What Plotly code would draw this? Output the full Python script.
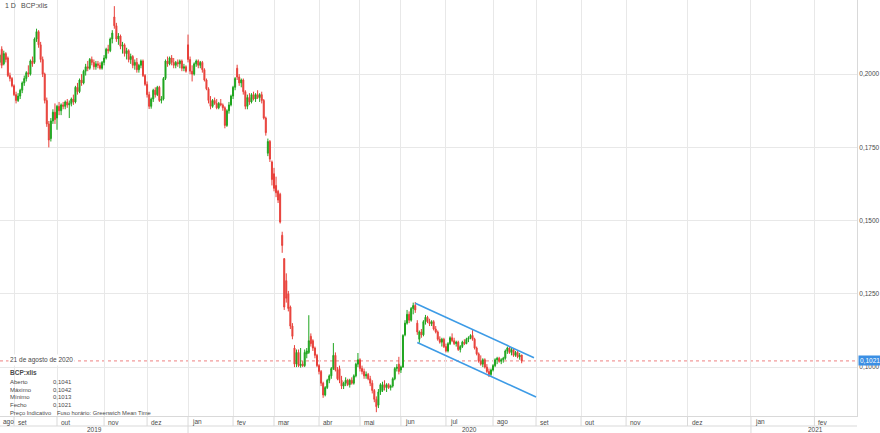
import plotly.graph_objects as go

# ---------------- data (daily candles, BCP:xlis, 22 Aug 2019 .. 21 Aug 2020) ----------------
open_ = [
    .2040, .2085, .2035, .2070, .2055, .1995, .1985,
    .1960, .1930, .1910, .1925, .1945, .1970, .1985, .2005, .2000, .2045, .2040, .2120, .2145, .2100, .2050, .2000, .1910, .1830, .1780, .1840, .1870,
    .1850, .1890, .1875, .1895, .1890, .1905, .1895, .1900, .1915, .1905, .1955, .1940, .1980, .1970, .2010, .2025, .2020, .2050, .2040, .2025, .2035, .2030, .2020,
    .2040, .2055, .2085, .2080, .2120, .2195, .2165, .2120, .2130, .2095, .2100, .2070, .2080, .2050, .2060, .2030, .2040, .2015, .2030, .2045, .1995,
    .1965, .1930, .1890, .1915, .1945, .1930, .1955, .1910, .1915, .1985, .2045, .2035, .2055, .2040, .2030, .2040, .2035, .2045, .2020, .2025,
    .2100, .2050, .2010, .2000, .2035, .2045, .2030, .2040, .2015, .1980, .1950, .1910, .1890, .1910, .1900, .1885, .1900, .1895, .1885, .1825, .1875, .1895,
    .1925, .1955, .2020, .1990, .1970, .1980, .1940, .1890, .1920, .1905, .1930, .1915, .1930, .1920, .1930, .1910, .1850, .1730, .1770, .1700,
    .1660, .1620, .1600, .1590, .1450, .1370, .1295, .1250, .1205, .1140, .1065, .1010, .1050, .1005, .1010, .1005, .1045, .1050, .1105, .1090, .1065, .1040,
    .1005, .0985, .0945, .0905, .0930, .0955, .0970, .0995, .1040, .0990, .0995, .0955, .0935, .0945, .0955, .0940, .0955, .0945, .0970, .1010,
    .1025, .0995, .0985, .0970, .0975, .0960, .0945, .0920, .0890, .0870, .0915, .0920, .0940, .0930, .0940, .0930, .0935, .0960, .0995, .1010,
    .0990, .1000, .1110, .1150, .1180, .1160, .1200, .1210, .1150, .1095, .1120, .1110, .1155, .1170, .1155, .1148, .1155, .1130, .1120, .1095, .1085, .1095,
    .1070, .1055, .1080, .1100, .1090, .1080, .1085, .1060, .1070, .1085, .1080, .1095, .1100, .1108, .1095, .1065, .1045, .1020, .1010, .1025, .1000, .0985, .0975,
    .0990, .1005, .1025, .1030, .1020, .1025, .1030, .1055, .1065, .1050, .1060, .1040, .1050, .1035, .1041,
]
high = [
    .2070, .2095, .2080, .2075, .2060, .2005, .1990,
    .1965, .1940, .1935, .1950, .1975, .1995, .2010, .2030, .2050, .2060, .2125, .2155, .2150, .2110, .2060, .2005, .1920, .1840, .1850, .1880, .1900,
    .1895, .1905, .1900, .1905, .1910, .1915, .1910, .1920, .1930, .1960, .1970, .1985, .2000, .2015, .2035, .2045, .2055, .2060, .2050, .2045, .2045, .2040, .2045,
    .2065, .2090, .2100, .2125, .2150, .2232, .2175, .2140, .2135, .2110, .2105, .2090, .2085, .2070, .2065, .2050, .2055, .2035, .2050, .2050, .2000,
    .1975, .1940, .1920, .1950, .1955, .1960, .1960, .1925, .1990, .2050, .2060, .2060, .2065, .2055, .2045, .2050, .2050, .2050, .2035, .2030,
    .2135, .2060, .2030, .2040, .2050, .2050, .2045, .2045, .2020, .1985, .1955, .1925, .1915, .1920, .1915, .1905, .1915, .1900, .1890, .1880, .1905, .1930,
    .1960, .1990, .2032, .2000, .1985, .1985, .1945, .1930, .1935, .1935, .1940, .1935, .1945, .1935, .1940, .1915, .1855, .1780, .1775, .1705,
    .1680, .1650, .1605, .1595, .1462, .1372, .1320, .1260, .1210, .1150, .1075, .1060, .1060, .1065, .1020, .1060, .1065, .1177, .1115, .1095, .1070, .1045,
    .1010, .0990, .0950, .0935, .0960, .0975, .1000, .1082, .1050, .1000, .1005, .0970, .0950, .0965, .0960, .0960, .0965, .0975, .1015, .1048,
    .1030, .1005, .0995, .0985, .0980, .0970, .0955, .0925, .0900, .0925, .0945, .0950, .0955, .0945, .0945, .0940, .0965, .1000, .1010, .1035,
    .1005, .1112, .1160, .1195, .1190, .1205, .1220, .1222, .1160, .1125, .1130, .1160, .1178, .1175, .1165, .1160, .1160, .1140, .1125, .1105, .1100, .1100,
    .1080, .1085, .1105, .1115, .1100, .1090, .1090, .1075, .1090, .1095, .1100, .1105, .1112, .1126, .1100, .1070, .1050, .1040, .1030, .1030, .1010, .0995, .0995,
    .1010, .1030, .1035, .1035, .1030, .1035, .1060, .1070, .1072, .1065, .1062, .1055, .1055, .1048, .1042,
]
low = [
    .2030, .2020, .2030, .2040, .1990, .1975, .1955,
    .1925, .1900, .1905, .1915, .1935, .1960, .1975, .1990, .1995, .2025, .2035, .2110, .2090, .2040, .1990, .1900, .1820, .1750, .1770, .1830, .1830,
    .1810, .1860, .1860, .1880, .1880, .1885, .1850, .1890, .1895, .1900, .1930, .1935, .1960, .1965, .1995, .2010, .2015, .2030, .2015, .2015, .2020, .2015, .2015,
    .2030, .2050, .2070, .2075, .2105, .2155, .2110, .2100, .2085, .2070, .2060, .2050, .2040, .2035, .2020, .2015, .2005, .2005, .2020, .1990, .1960,
    .1920, .1881, .1882, .1905, .1920, .1925, .1905, .1900, .1910, .1980, .2025, .2030, .2030, .2020, .2020, .2025, .2020, .2010, .2010, .2005,
    .2040, .2000, .1975, .1995, .2025, .2020, .2020, .2005, .1975, .1945, .1900, .1880, .1885, .1895, .1880, .1880, .1890, .1875, .1815, .1820, .1865, .1890,
    .1915, .1945, .1980, .1960, .1955, .1930, .1880, .1880, .1895, .1900, .1910, .1905, .1915, .1905, .1900, .1845, .1790, .1720, .1700, .1620,
    .1600, .1580, .1560, .1490, .1390, .1195, .1220, .1190, .1130, .1095, .1000, .1000, .1000, .0998, .1000, .1000, .1030, .1045, .1070, .1055, .1030, .1000,
    .0975, .0935, .0895, .0900, .0925, .0945, .0960, .0990, .0985, .0955, .0945, .0925, .0925, .0935, .0935, .0930, .0940, .0940, .0965, .1000,
    .0985, .0975, .0960, .0960, .0955, .0935, .0910, .0880, .0846, .0860, .0905, .0915, .0920, .0915, .0925, .0920, .0930, .0955, .0985, .0975,
    .0980, .0998, .1105, .1145, .1150, .1155, .1180, .1185, .1110, .1083, .1100, .1105, .1145, .1150, .1140, .1140, .1125, .1115, .1090, .1080, .1070, .1065,
    .1050, .1050, .1075, .1085, .1075, .1070, .1055, .1050, .1065, .1075, .1078, .1085, .1095, .1090, .1060, .1040, .1015, .1005, .1000, .0995, .0980, .0966, .0970,
    .0985, .1000, .1010, .1015, .1010, .1015, .1025, .1045, .1045, .1040, .1035, .1035, .1030, .1025, .1013,
]
close = [
    .2065, .2030, .2070, .2050, .1995, .1985, .1960,
    .1930, .1910, .1925, .1945, .1970, .1985, .2005, .2000, .2045, .2035, .2120, .2145, .2100, .2050, .2000, .1910, .1830, .1775, .1840, .1870, .1845,
    .1890, .1875, .1895, .1890, .1905, .1895, .1900, .1915, .1905, .1955, .1940, .1980, .1970, .2010, .2025, .2020, .2050, .2040, .2025, .2035, .2030, .2020, .2040,
    .2055, .2085, .2080, .2120, .2140, .2165, .2120, .2130, .2095, .2100, .2070, .2080, .2050, .2060, .2030, .2040, .2015, .2030, .2045, .1995, .1965,
    .1930, .1890, .1915, .1945, .1930, .1955, .1910, .1915, .1985, .2045, .2035, .2055, .2040, .2030, .2040, .2035, .2045, .2020, .2025, .2010,
    .2050, .2010, .2000, .2035, .2045, .2030, .2040, .2015, .1980, .1950, .1910, .1890, .1910, .1900, .1885, .1900, .1895, .1885, .1825, .1875, .1895, .1925,
    .1955, .1985, .1990, .1970, .1980, .1940, .1890, .1920, .1905, .1930, .1915, .1930, .1920, .1930, .1910, .1850, .1800, .1770, .1710, .1640,
    .1610, .1595, .1570, .1495, .1415, .1205, .1235, .1200, .1140, .1105, .1010, .1050, .1005, .1010, .1005, .1050, .1055, .1090, .1080, .1065, .1040, .1005,
    .0985, .0945, .0905, .0930, .0955, .0970, .0995, .1040, .0990, .0960, .0955, .0935, .0945, .0955, .0940, .0955, .0945, .0970, .1010, .1025,
    .0995, .0985, .0970, .0975, .0960, .0945, .0920, .0890, .0865, .0915, .0940, .0940, .0930, .0940, .0930, .0935, .0960, .0995, .1000, .0985,
    .1000, .1108, .1150, .1180, .1160, .1200, .1210, .1195, .1120, .1120, .1110, .1155, .1170, .1155, .1148, .1155, .1130, .1120, .1095, .1085, .1095, .1070,
    .1055, .1080, .1100, .1090, .1080, .1085, .1060, .1070, .1085, .1080, .1095, .1100, .1108, .1095, .1065, .1045, .1020, .1010, .1025, .1000, .0985, .0975, .0990,
    .1005, .1025, .1030, .1020, .1025, .1030, .1055, .1065, .1050, .1060, .1040, .1050, .1035, .1040, .1021,
]
assert len(open_) == len(high) == len(low) == len(close), (len(open_), len(high), len(low), len(close))

AUG19_DAYS = 7                      # trading days of Aug 2019 shown before 1 Sep
day_index = [i - AUG19_DAYS for i in range(len(close))]   # trading-day index (0 = 2 Sep 2019)

# month boundaries on the trading-day axis and their labels
month_starts = [0, 21, 44, 65, 85, 107, 127, 149, 169, 189, 211, 234, 255, 277, 299, 329, 360, 391]
month_labels = ["set", "out", "nov", "dez", "jan", "fev", "mar", "abr", "mai", "jun",
                "jul", "ago", "set", "out", "nov", "dez", "jan", "fev"]
first_month_label = "ago"
year_labels = ["2019", "2020", "2021"]
year_starts = [85, 360]            # January boundaries

# user-drawn descending channel
upper_x = [196, 254]
upper_y = [0.1218, 0.1032]
lower_x = [197, 255]
lower_y = [0.1084, 0.0898]

y_ticks = [0.1000, 0.1250, 0.1500, 0.1750, 0.2000]
last_date = "21 de agosto de 2020"
symbol = "BCP:xlis"

# ---------------- figure ----------------
W, H = 880, 433
ML, MR, MT, MB = 0, 23, 0, 17
PW, PH = W - ML - MR, H - MT - MB
X_RANGE = [-6.85, 411.8]
Y_RANGE = [0.0833, 0.2253]
FONT = "Arial, Liberation Sans, sans-serif"
GRID = "#e8e8e8"
BORDER = "#d9d9d9"
TXT = "#4a4a4a"
GREEN = "#1ea51e"
RED = "#e8403a"
BLUE = "#3d9be6"
FS = 6.5

def fmt(v):
    return f"{v:.4f}".replace(".", ",")

fig = go.Figure()
fig.add_trace(go.Candlestick(
    x=day_index, open=open_, high=high, low=low, close=close,
    increasing=dict(line=dict(color=GREEN, width=1), fillcolor=GREEN),
    decreasing=dict(line=dict(color=RED, width=1), fillcolor=RED),
    whiskerwidth=0, showlegend=False, hoverinfo="skip",
))
for cx, cy in ((upper_x, upper_y), (lower_x, lower_y)):
    fig.add_trace(go.Scatter(x=cx, y=cy, mode="lines", line=dict(color=BLUE, width=1.6),
                             showlegend=False, hoverinfo="skip"))

shapes = []
# last-price dashed line
shapes.append(dict(type="line", xref="paper", yref="y", x0=0, x1=1, y0=close[-1], y1=close[-1],
                   line=dict(color="#ee8080", width=1, dash="3px,3px"), layer="below"))
# axis rows (month row and year row)
row1 = -10 / PH
row2 = -17 / PH
for ms in month_starts:
    shapes.append(dict(type="line", xref="x", yref="paper", x0=ms, x1=ms, y0=0, y1=row1,
                       line=dict(color=BORDER, width=1)))
shapes.append(dict(type="line", xref="paper", yref="paper", x0=0, x1=1, y0=row1, y1=row1,
                   line=dict(color=BORDER, width=1)))
for ys in year_starts:
    shapes.append(dict(type="line", xref="x", yref="paper", x0=ys, x1=ys, y0=row1, y1=row2,
                       line=dict(color=BORDER, width=1)))

ann = []
def txt(text, px, py, size=FS, bold=False, color=TXT, bg=None, anchor="left"):
    d = dict(text=f"<b>{text}</b>" if bold else text, xref="paper", yref="paper",
             x=px / PW, y=1 - py / PH, xanchor=anchor, yanchor="middle", showarrow=False,
             font=dict(family=FONT, size=size, color=color))
    if bg:
        d.update(bgcolor=bg, borderpad=1)
    ann.append(d)

txt("1 D", 3, 6, size=7)
txt(symbol, 19, 6, size=7)
txt(last_date, 8, 360, bg="white")
txt(symbol, 8, 372, bold=True)
for i, (name, val) in enumerate([("Aberto", open_[-1]), ("Máximo", high[-1]),
                                 ("Mínimo", low[-1]), ("Fecho", close[-1])]):
    txt(name, 8, 382 + 7.7 * i, size=6)
    txt(fmt(val), 51, 382 + 7.7 * i, size=6)
txt("Preço Indicativo", 8, 413, size=5.8)
txt("Fuso horário: Greenwich Mean Time", 55, 413, size=5.8)

# month labels
ann.append(dict(text=first_month_label, xref="paper", yref="paper", x=0, y=0, xanchor="left",
                yanchor="middle", yshift=-6, xshift=1, showarrow=False,
                font=dict(family=FONT, size=FS, color=TXT)))
for ms, lab in zip(month_starts, month_labels):
    ann.append(dict(text=lab, xref="x", yref="paper", x=ms, y=0, xanchor="left",
                    yanchor="middle", yshift=-6, xshift=2, showarrow=False,
                    font=dict(family=FONT, size=FS, color=TXT)))
# year labels centred in their spans
fig_right_idx = X_RANGE[0] + (X_RANGE[1] - X_RANGE[0]) * W / PW
spans = [X_RANGE[0]] + year_starts + [fig_right_idx]
for lab, a, b in zip(year_labels, spans[:-1], spans[1:]):
    ann.append(dict(text=lab, xref="x", yref="paper", x=(a + b) / 2, y=0, xanchor="center",
                    yanchor="middle", yshift=-13.5, showarrow=False,
                    font=dict(family=FONT, size=FS, color=TXT)))
# last price tag on the price axis
ann.append(dict(text=fmt(close[-1]), xref="paper", yref="y", x=1, y=close[-1], xanchor="left",
                yanchor="middle", xshift=1, showarrow=False, bgcolor="#3b8fe4", borderpad=1,
                font=dict(family=FONT, size=FS, color="white")))

fig.update_layout(
    width=W, height=H, margin=dict(l=ML, r=MR, t=MT, b=MB, pad=0),
    paper_bgcolor="white", plot_bgcolor="white", separators=",.",
    showlegend=False, shapes=shapes, annotations=ann, hovermode=False,
    font=dict(family=FONT, size=FS, color=TXT),
    xaxis=dict(range=X_RANGE, tickvals=month_starts, showticklabels=False, ticks="",
               showgrid=True, gridcolor=GRID, gridwidth=1, zeroline=False,
               showline=True, linecolor=BORDER, linewidth=1, rangeslider=dict(visible=False)),
    yaxis=dict(range=Y_RANGE, side="right", tickvals=y_ticks, tickformat=".4f", ticks="",
               showgrid=True, gridcolor=GRID, gridwidth=1, zeroline=False,
               showline=True, linecolor=BORDER, linewidth=1, automargin=False,
               tickfont=dict(family=FONT, size=FS, color=TXT)),
)

fig.write_html("out.html", config={"displayModeBar": False, "staticPlot": True},
               post_script="document.body.style.margin='0';document.body.style.overflow='hidden';")
